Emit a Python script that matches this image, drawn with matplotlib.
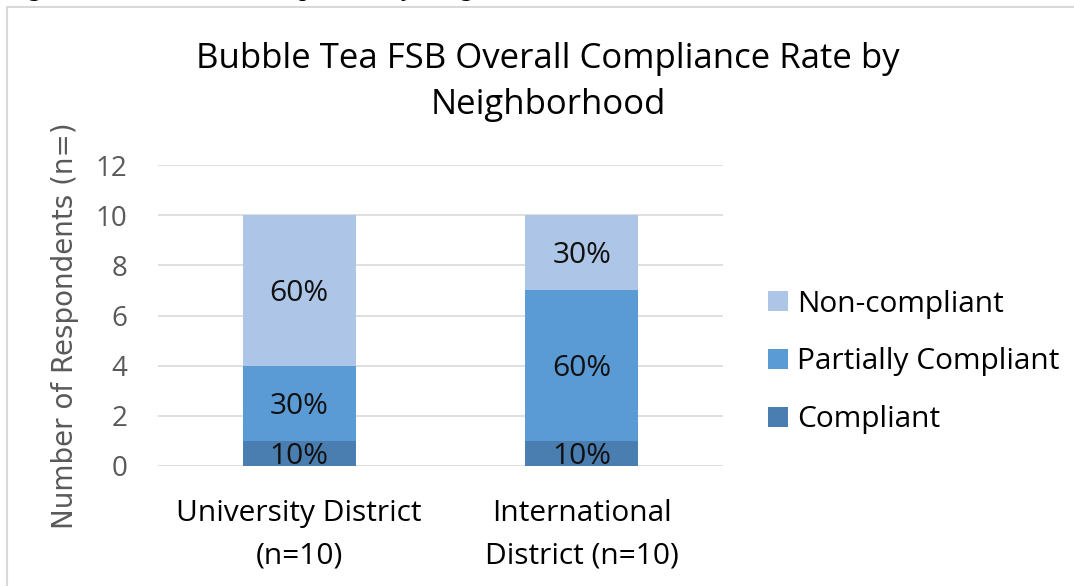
import matplotlib

matplotlib.use("Agg")
import matplotlib.pyplot as plt
import numpy as np
from matplotlib import patches
from matplotlib.transforms import offset_copy

categories = ["University District\n(n=10)", "International\nDistrict (n=10)"]
series_names = ["Compliant", "Partially Compliant", "Non-compliant"]
compliant = [1, 1]
partially = [3, 6]
non_compliant = [6, 3]
pct_labels = [
    ["10%", "10%"],
    ["30%", "60%"],
    ["60%", "30%"],
]
y_ticks = [0, 2, 4, 6, 8, 10, 12]

COLORS = ["#4a7eb0", "#5b9bd5", "#adc5e6"]
GRID_COLOR = "#d9d9d9"
TEXT_GRAY = "#595959"
W, H = 1074, 586

plt.rcParams["font.family"] = ["Open Sans", "DejaVu Sans"]

fig = plt.figure(figsize=(W / 100, H / 100), dpi=100)
ax = fig.add_axes([158 / W, 1 - 466 / H, (723 - 158) / W, (466 - 165) / H])

# data labels sit a few pixels low in the original
label_trans = offset_copy(ax.transData, fig=fig, y=-3, units="dots")

x = np.arange(len(categories))
values = [compliant, partially, non_compliant]
bottom = np.zeros(len(categories))
handles = []
for name, vals, color, labels in zip(series_names, values, COLORS, pct_labels):
    bars = ax.bar(x, vals, width=0.4, bottom=bottom, color=color, label=name, zorder=2)
    handles.append(bars)
    for xi, b, v, lab in zip(x, bottom, vals, labels):
        ax.text(xi, b + v / 2, lab, ha="center", va="center", fontsize=21.5, color="#111111",
                zorder=3, transform=label_trans)
    bottom = bottom + np.array(vals)

ax.set_xlim(-0.5, 1.5)
ax.set_ylim(0, 12)
ax.set_yticks(y_ticks)
ax.set_xticks(x)
ax.set_xticklabels(categories, fontsize=21.5, linespacing=1.6)
ax.tick_params(axis="y", length=0, pad=22, labelsize=20, labelcolor=TEXT_GRAY)
ax.tick_params(axis="x", length=0, pad=24)
ax.grid(axis="y", color=GRID_COLOR, linewidth=1.2, zorder=0)
for s in ax.spines.values():
    s.set_visible(False)

fig.text(65 / W, 1 - 326 / H, "Number of Respondents (n=)", rotation=90, ha="center", va="center",
         fontsize=20, color=TEXT_GRAY, family="DejaVu Sans")

fig.text(548 / W, 1 - 82 / H, "Bubble Tea FSB Overall Compliance Rate by\nNeighborhood",
         ha="center", va="center", fontsize=25, linespacing=1.5)

fig.legend(handles[::-1], series_names[::-1], loc="center left", bbox_to_anchor=(768 / W, 1 - 362 / H),
           frameon=False, fontsize=21.5, handlelength=0.68, handleheight=0.68, handletextpad=0.3,
           labelspacing=0.97, borderpad=0, borderaxespad=0)

# outer chart border and clipped caption from the document
fig.patches.append(patches.Rectangle((7 / W, -0.1), 1.2, 1.1 - 7 / H, transform=fig.transFigure,
                                     fill=False, edgecolor=GRID_COLOR, linewidth=1.5))
fig.text(5 / W, 1 + 5 / H, "Figure 8: Bubble Tea Compliance by Neighborhood", ha="left", va="baseline",
         fontsize=20, style="italic", family="Liberation Serif")

fig.savefig("out.png", dpi=100)
